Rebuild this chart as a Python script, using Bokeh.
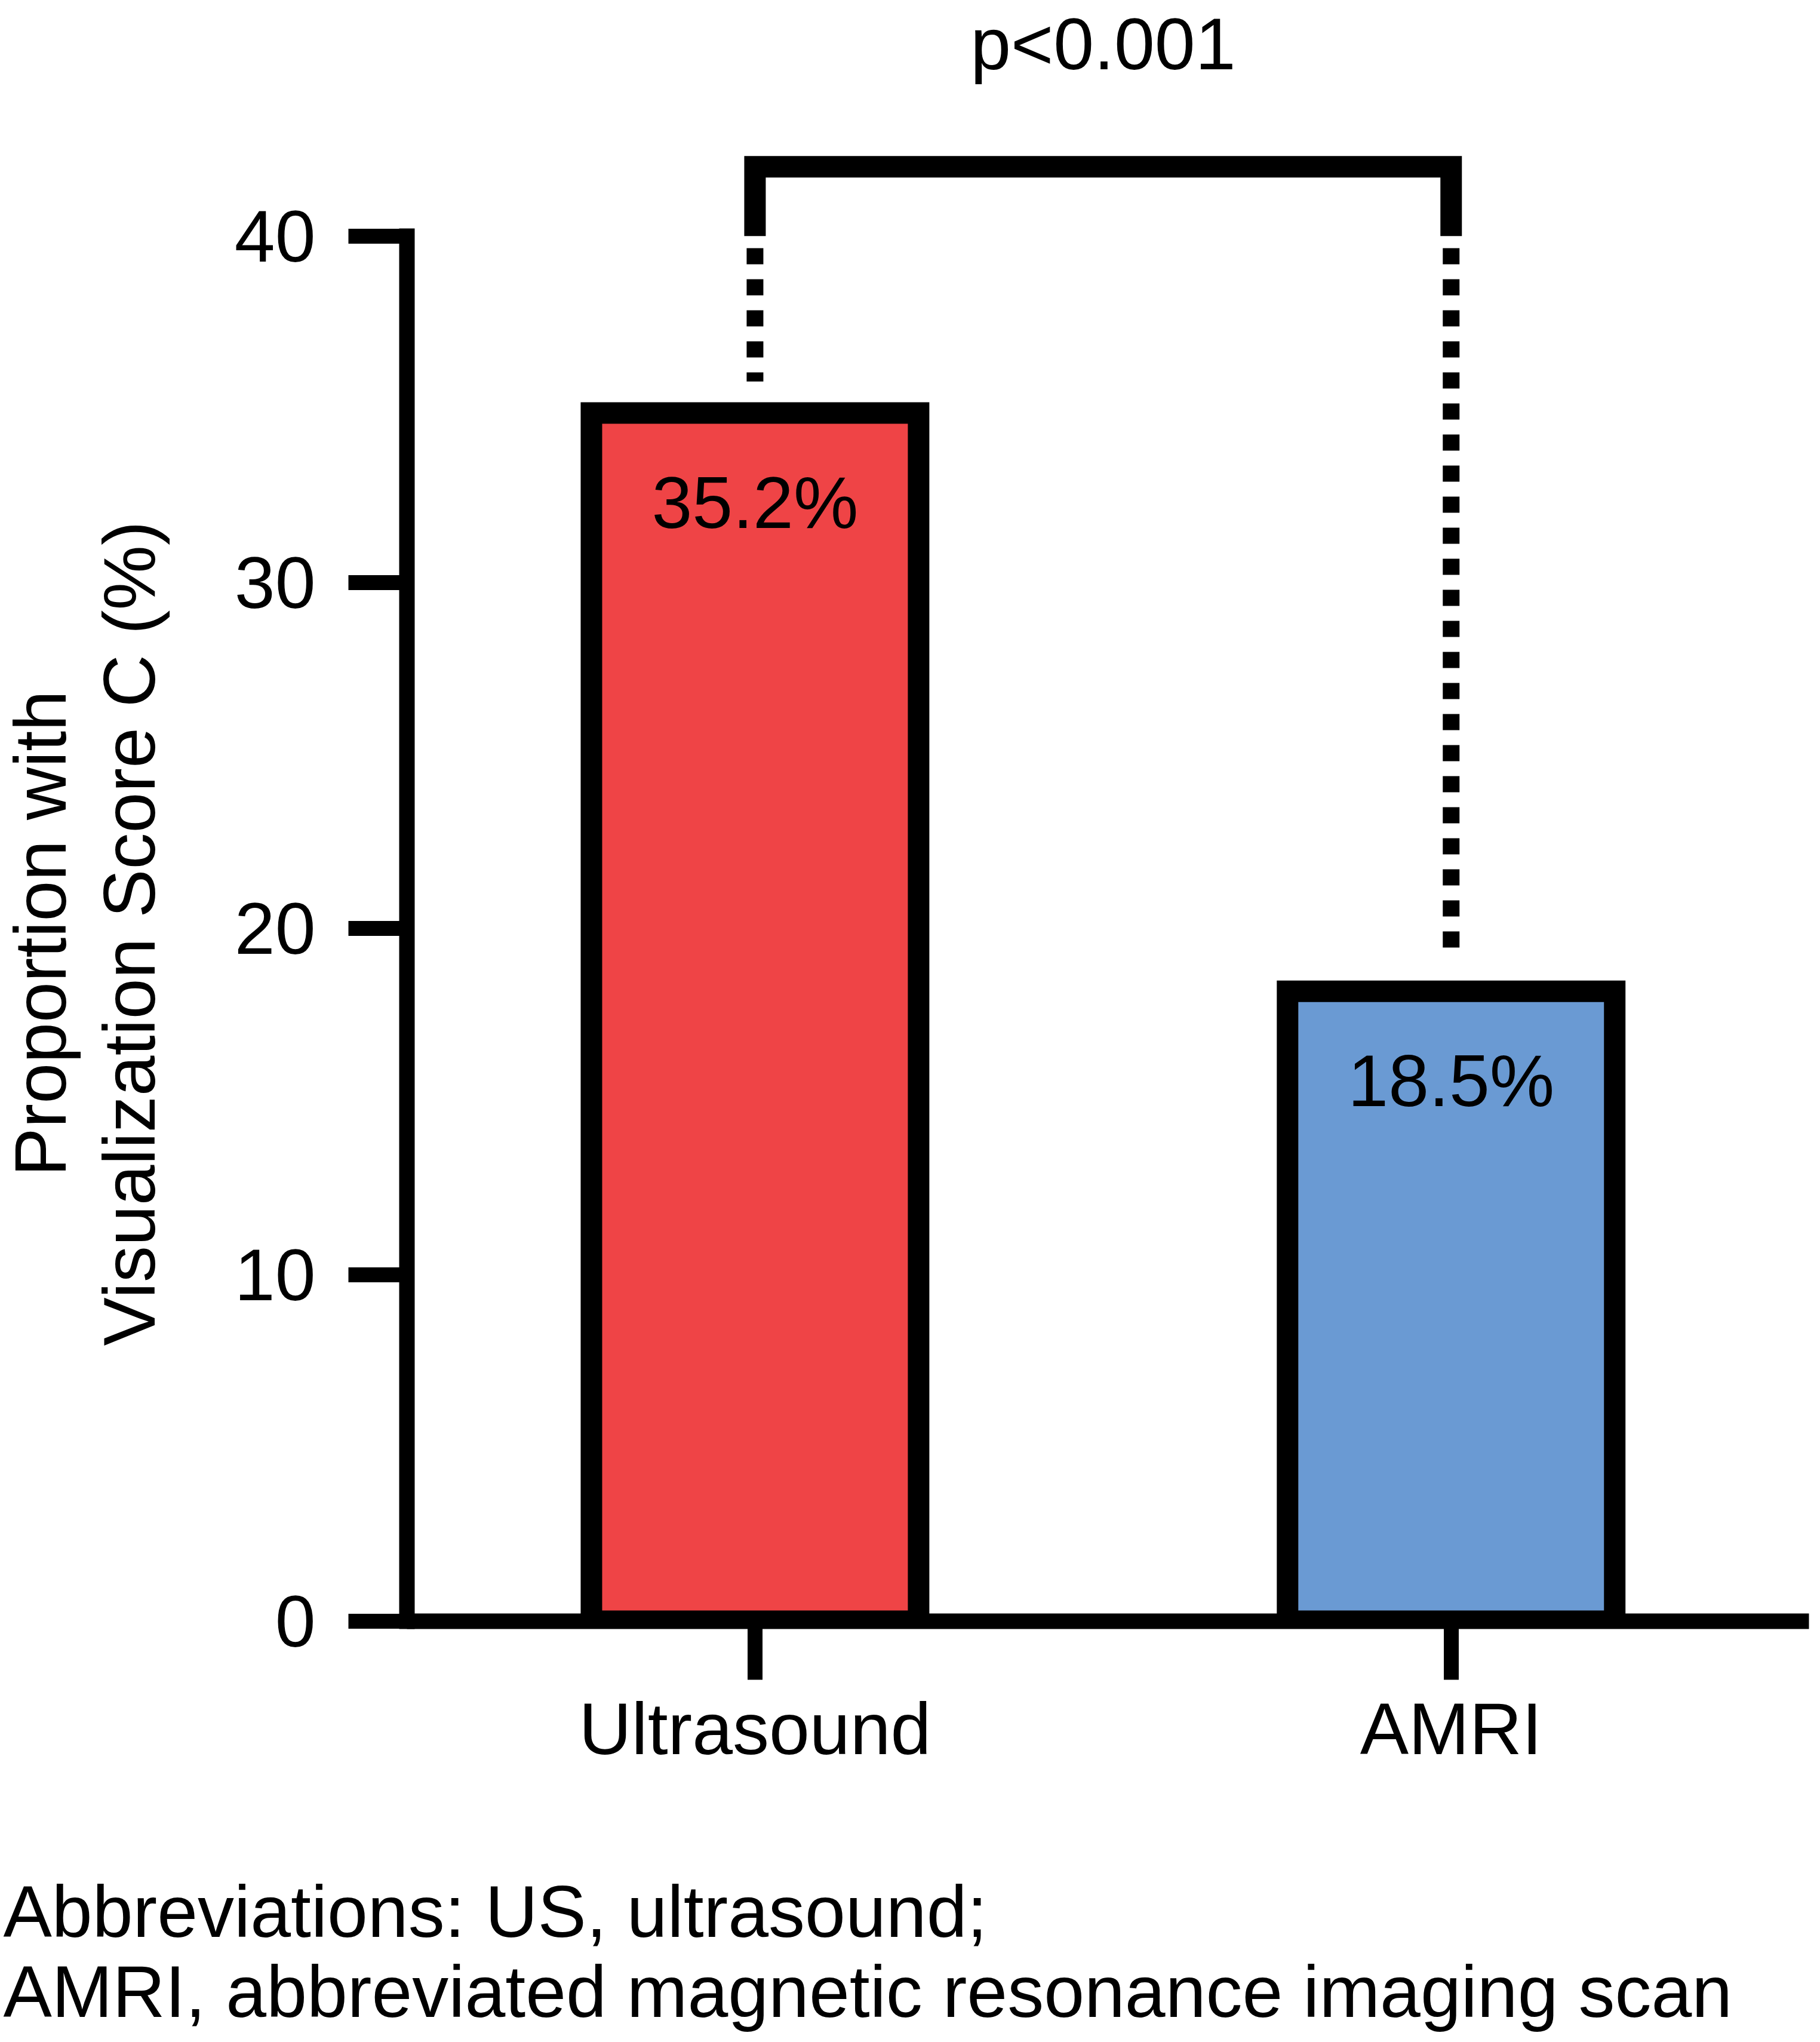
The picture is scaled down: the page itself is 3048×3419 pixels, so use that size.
from bokeh.plotting import figure
from bokeh.layouts import column, row
from bokeh.models import FixedTicker, Range1d, ColumnDataSource
from bokeh.embed import file_html
from bokeh.resources import INLINE
from bokeh.core.properties import value

# ---- data ----
categories = ["Ultrasound", "AMRI"]
proportions = [35.2, 18.5]
bar_labels = ["35.2%", "18.5%"]
bar_colors = ["#EF4446", "#6A9AD3"]
y_ticks = [0, 10, 20, 30, 40]
p_label = "p<0.001"
y_title = "Proportion with\nVisualization Score C (%)"
footnotes = ["Abbreviations: US, ultrasound;",
             "AMRI, abbreviated magnetic resonance imaging scan"]

positions = [i + 1 for i in range(len(categories))]

# ---- geometry / style ----
FONT = "Liberation Sans"
FS = "122px"
W = 3032
TITLE_W = 330                    # strip holding the rotated y-axis title
MAIN_W = W - TITLE_W
PX = 57.98                       # pixels per y unit
PAGE_TOP = 8
ZERO = 2722                      # page y of value 0
FOOT_TOP = 3100
PAGE_BOTTOM = 3411
MAIN_H = FOOT_TOP - PAGE_TOP
FOOT_H = PAGE_BOTTOM - FOOT_TOP
FRAME_LEFT = 689                 # page x of the y axis

BAR_LINE = 36
inset = BAR_LINE / 2 / PX


def clean(fig):
    fig.outline_line_color = None
    fig.grid.visible = False
    fig.background_fill_color = "white"
    fig.border_fill_color = "white"


def no_align(fig):
    if "frame_align" in fig.properties():
        fig.frame_align = False


# ---------------- main chart ----------------
p = figure(width=MAIN_W, height=MAIN_H, output_backend="svg", toolbar_location=None,
           x_range=Range1d(0.5, 2.514), y_range=Range1d(0, (ZERO - PAGE_TOP) / PX),
           min_border_left=FRAME_LEFT - PAGE_TOP - TITLE_W, min_border_right=3,
           min_border_top=0, min_border_bottom=FOOT_TOP - ZERO)
clean(p)

yax = p.yaxis[0]
yax.ticker = FixedTicker(ticks=y_ticks)
yax.bounds = (min(y_ticks), max(y_ticks))
yax.axis_line_width = 26
yax.axis_line_color = "black"
yax.axis_line_cap = "square"
yax.major_tick_line_width = 25
yax.major_tick_line_color = "black"
yax.major_tick_out = 98
yax.major_tick_in = 0
yax.minor_tick_line_color = None
yax.major_label_text_font = FONT
yax.major_label_text_font_size = FS
yax.major_label_text_color = "black"
yax.major_label_standoff = 55

xax = p.xaxis[0]
xax.ticker = FixedTicker(ticks=positions)
xax.major_label_overrides = {pos: cat for pos, cat in zip(positions, categories)}
xax.axis_line_width = 26
xax.axis_line_color = "black"
xax.major_tick_line_width = 25
xax.major_tick_line_color = "black"
xax.major_tick_out = 98
xax.major_tick_in = 0
xax.minor_tick_line_color = None
xax.major_label_text_font = FONT
xax.major_label_text_font_size = FS
xax.major_label_text_color = "black"
xax.major_label_standoff = 14

src = ColumnDataSource(dict(x=positions, top=[v - inset for v in proportions],
                            color=bar_colors, label=bar_labels,
                            label_y=[v - 2.9 for v in proportions]))
p.vbar(x="x", top="top", bottom=0, width=0.47, fill_color="color",
       line_color="black", line_width=BAR_LINE, line_join="miter", source=src)
p.text(x="x", y="label_y", text="label", text_align="center",
       text_baseline="alphabetic", text_font=value(FONT), text_font_size=FS,
       text_color="black", source=src)

axis_top = max(y_ticks)
x1, x2 = positions
bracket_y = 42
p.line(x=[x1, x1, x2, x2], y=[axis_top, bracket_y, bracket_y, axis_top],
       line_width=36, line_color="black", line_join="miter", line_cap="butt")
for xv, v in zip(positions, proportions):
    p.line(x=[xv, xv], y=[axis_top - 0.35, v + 0.6], line_width=28,
           line_color="black", line_dash="27 25", line_cap="butt")
p.text(x=[(x1 + x2) / 2], y=[bracket_y + 3.55], text=[p_label],
       text_align="center", text_baseline="alphabetic",
       text_font=value(FONT), text_font_size=FS, text_color="black")

# ---------------- y-axis title strip ----------------
tt = figure(width=TITLE_W, height=MAIN_H, output_backend="svg", toolbar_location=None,
            x_range=Range1d(0, TITLE_W), y_range=Range1d(0, MAIN_H),
            x_axis_type=None, y_axis_type=None,
            min_border_left=0, min_border_right=0, min_border_top=0,
            min_border_bottom=0)
clean(tt)
no_align(tt)
# centred on the middle of the y axis (value 20)
title_center_y = (ZERO - (min(y_ticks) + max(y_ticks)) / 2 * PX)   # page y
tt.text(x=[150 - PAGE_TOP], y=[FOOT_TOP - title_center_y - 8], text=[y_title],
        angle=90, angle_units="deg", text_align="center", text_baseline="middle",
        text_font=value(FONT), text_font_size=FS, text_color="black",
        text_line_height=1.09)

# ---------------- footnote strip ----------------
f = figure(width=W, height=FOOT_H, output_backend="svg", toolbar_location=None,
           x_range=Range1d(0, W), y_range=Range1d(0, FOOT_H),
           x_axis_type=None, y_axis_type=None,
           min_border_left=0, min_border_right=0, min_border_top=0,
           min_border_bottom=0)
clean(f)
no_align(f)
f.text(x=[5, 5], y=[203, 69], text=footnotes, text_align="left",
       text_baseline="alphabetic", text_font=value(FONT), text_font_size=FS,
       text_color="black")

layout = column(row(tt, p, spacing=0), f, spacing=0)
open("out.html", "w").write(file_html(layout, INLINE))
